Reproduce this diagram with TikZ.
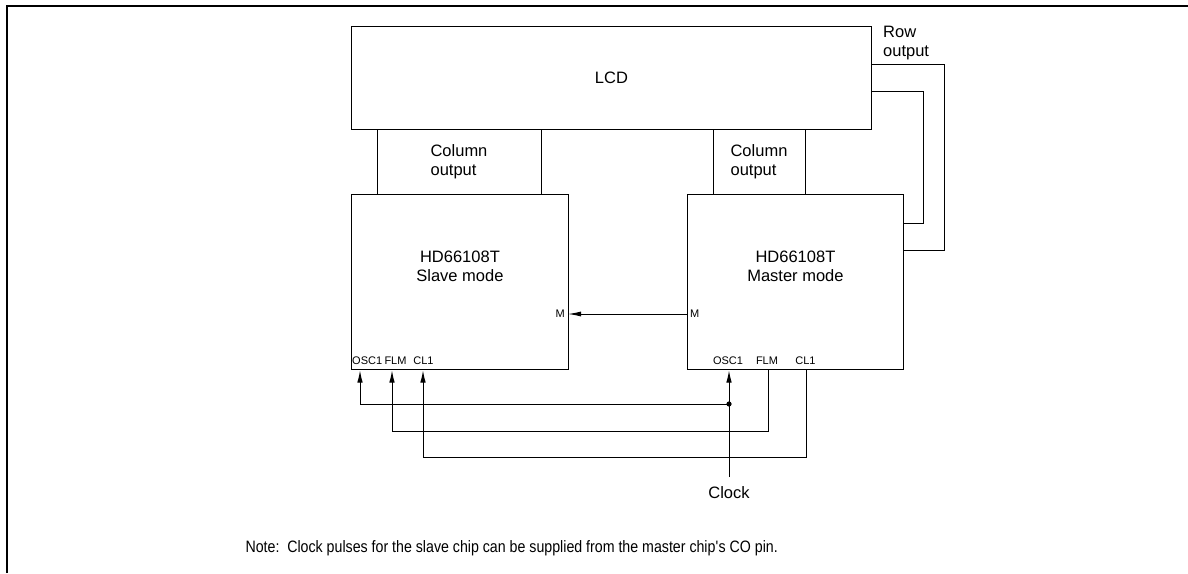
\documentclass[tikz,border=0pt]{standalone}
\usepackage{fontspec}
\setmainfont{Liberation Sans}
\newfontfamily\notefont[FakeStretch=0.86]{Liberation Sans}
\usetikzlibrary{calc,arrows.meta}

\tikzset{
  chip/.style={draw, line width=0.9pt, anchor=north west, inner sep=0pt},
  wire/.style={line width=0.9pt},
  pinarrow/.style={wire, -{Latex[length=12pt,width=5.5pt]}, shorten >=1.5pt},
  pinlbl/.style={font=\fontsize{11}{13}\selectfont, inner sep=0pt},
  twoline/.style={align=left, inner sep=0pt}
}

\begin{document}
\begin{tikzpicture}[x=1pt, y=-1pt, font=\fontsize{16.5}{19}\selectfont]
		\useasboundingbox (0,0) rectangle (1188,573);
		%%%%% FRAME %%%%%
		\draw[line width=1.8pt] (7,573) -- (7,6) -- (1188,6);
		
		%%%%% BOXES %%%%%
		\node[chip, minimum width=520pt, minimum height=103pt] (lcd) at (351,26) {};
		\node at (lcd.center) {LCD};
		\node[chip, minimum width=217pt, minimum height=175pt] (slave) at (351,194) {};
		\node[chip, minimum width=216pt, minimum height=175pt] (master) at (687,194) {};
		\node[align=center] (slavetxt) at ($(slave.center)+(0,-16)$) {HD66108T\\Slave mode};
		\node[align=center] (mastertxt) at ($(master.center)+(0,-16)$) {HD66108T\\Master mode};
		
		%%%%% COLUMN OUTPUT %%%%%
		\coordinate (colA) at (377,0);
		\coordinate (colB) at (541,0);
		\coordinate (colC) at (713,0);
		\coordinate (colD) at (805,0);
		\draw[wire] (lcd.south -| colA) -- (slave.north -| colA);
		\draw[wire] (lcd.south -| colB) -- (slave.north -| colB);
		\draw[wire] (lcd.south -| colC) -- (master.north -| colC);
		\draw[wire] (lcd.south -| colD) -- (master.north -| colD);
		\node[twoline] (coltxtS) at (459,162) {Column\\output};
		\node[twoline] (coltxtM) at (759,162) {Column\\output};
		
		%%%%% ROW OUTPUT %%%%%
		\coordinate (rowo) at (944,64);
		\coordinate (rowi) at (923,91);
		\coordinate (rowoe) at (903,250);
		\coordinate (rowie) at (903,223);
		\draw[wire] (lcd.east |- rowo) -- (rowo) |- (rowoe);
		\draw[wire] (lcd.east |- rowi) -- (rowi) |- (rowie);
		\node[twoline, anchor=north west] (rowtxt) at (883,25.5) {Row\\output};
		
		%%%%% M LINE %%%%%
		\coordinate (sM) at (568,314);
		\coordinate (mM) at (687,314);
		\draw[wire, -{Latex[length=13pt,width=5pt]}] (mM) -- (sM);
		\node[pinlbl, anchor=east] (sMl) at (565,314) {M};
		\node[pinlbl, anchor=west] (mMl) at (690,314) {M};
		
		%%%%% PINS %%%%%
		\coordinate (sosc) at (360,369);
		\coordinate (sflm) at (392,369);
		\coordinate (scl) at (423,369);
		\coordinate (mosc) at (729,369);
		\coordinate (mflm) at (768,369);
		\coordinate (mcl) at (806,369);
		\node[pinlbl, anchor=west] (soscl) at (352,361) {OSC1};
		\node[pinlbl] (sflml) at (395.5,361) {FLM};
		\node[pinlbl] (scll) at (423.5,361) {CL1};
		\node[pinlbl] (moscl) at (728,361) {OSC1};
		\node[pinlbl] (mflml) at (767,361) {FLM};
		\node[pinlbl] (mcll) at (805.5,361) {CL1};
		
		%%%%% CLOCK BUSES %%%%%
		\coordinate (jct) at (729,404);
		\coordinate (flmbus) at (392,431);
		\coordinate (clbus) at (423,457);
		\coordinate (clk) at (729,477);
		\draw[pinarrow] (jct) -| (sosc);
		\draw[pinarrow] (mflm) |- (flmbus) -- (sflm);
		\draw[pinarrow] (mcl) |- (clbus) -- (scl);
		\draw[pinarrow] (clk) -- (mosc);
		\fill (jct) circle (2.6pt);
		\node[anchor=north] (clktxt) at (729,483) {Clock};
		
		%%%%% NOTE %%%%%
		\node[anchor=west, font=\notefont\fontsize{16.5}{19}\selectfont] (note) at (242,548) {Note:\ \ Clock pulses for the slave chip can be supplied from the master chip\textquotesingle s CO pin.};
	\end{tikzpicture}
\end{document}
